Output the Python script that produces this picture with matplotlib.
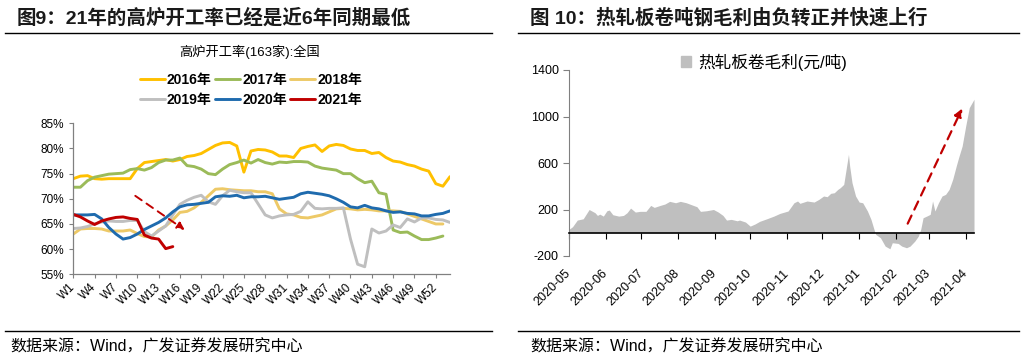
import matplotlib
matplotlib.use('Agg')
import matplotlib.pyplot as plt
import matplotlib.dates as mdates
from matplotlib.lines import Line2D
from matplotlib.patches import Patch
import pandas as pd

plt.rcParams['font.family'] = ['Liberation Sans', 'Noto Sans CJK SC']
plt.rcParams['axes.unicode_minus'] = False

# ---- left chart: blast furnace utilisation (163 mills), weekly, %
week_ticks = list(range(1, 53, 3))
util_2016 = [74.0, 74.5, 74.6, 74.0, 73.9, 74.0, 74.0, 74.0, 74.0, 76.0,
             77.2, 77.4, 77.6, 77.8, 77.5, 77.8, 78.4, 78.6, 79.0, 79.8,
             80.6, 81.1, 81.2, 80.5, 75.3, 79.5, 79.8, 79.7, 79.3, 78.5,
             78.5, 78.2, 80.0, 80.4, 80.7, 79.4, 80.5, 80.8, 80.6, 79.9,
             79.6, 79.6, 79.0, 79.2, 78.2, 77.5, 77.3, 76.8, 76.5, 75.9,
             75.5, 73.0, 72.5, 74.4]
util_2017 = [72.3, 72.3, 73.6, 74.3, 74.6, 74.9, 75.0, 75.1, 75.8, 76.0,
             75.7, 76.2, 77.2, 77.7, 77.7, 78.1, 76.6, 76.4, 75.9, 75.0,
             74.8, 75.9, 76.8, 77.2, 77.7, 77.1, 77.8, 77.2, 76.9, 77.3,
             77.2, 77.4, 77.4, 77.3, 76.5, 76.1, 75.9, 75.7, 75.0, 75.0,
             74.0, 73.2, 73.5, 71.2, 70.9, 63.8, 63.3, 63.4, 62.6, 61.9,
             61.9, 62.2, 62.6]
util_2018 = [63.0, 64.0, 64.1, 64.1, 64.0, 63.6, 63.6, 63.6, 63.8, 63.1,
             62.5, 62.4, 63.8, 64.6, 65.8, 67.3, 67.5, 68.2, 69.3, 70.6,
             71.9, 72.0, 71.8, 71.7, 71.6, 71.6, 71.4, 71.4, 71.0, 68.0,
             67.0, 66.8, 66.3, 66.2, 66.5, 66.8, 67.4, 68.0, 68.1, 68.0,
             67.8, 67.9, 67.8, 67.6, 67.6, 67.6, 67.5, 67.0, 66.5, 66.0,
             65.5, 65.0, 65.0]
util_2019 = [64.1, 64.2, 64.5, 65.0, 65.4, 65.6, 65.5, 65.5, 65.7, 65.7,
             63.5, 62.6, 63.6, 64.6, 66.8, 68.9, 69.7, 70.3, 70.7, 69.4,
             68.9, 70.6, 71.7, 71.4, 71.2, 71.2, 69.0, 66.8, 66.2, 66.6,
             66.8, 66.9, 67.5, 69.4, 68.1, 68.0, 68.1, 68.1, 68.2, 62.0,
             57.0, 56.5, 64.0, 63.2, 63.6, 64.8, 64.3, 66.0, 65.4, 66.2,
             66.2, 65.9, 65.8, 65.3]
util_2020 = [66.8, 66.8, 66.8, 66.9, 66.0, 64.3, 63.0, 62.0, 62.3, 63.0,
             63.9, 64.6, 65.3, 66.2, 67.4, 68.4, 68.8, 68.9, 69.1, 69.3,
             70.4, 70.6, 70.5, 70.7, 70.2, 70.4, 70.4, 70.5, 70.2, 69.9,
             70.1, 70.3, 71.0, 71.3, 71.1, 70.9, 70.6, 70.0, 69.3, 68.4,
             68.2, 68.7, 68.2, 68.0, 67.6, 67.3, 67.4, 67.1, 67.0, 66.6,
             66.6, 66.9, 67.1, 67.6]
util_2021 = [66.9, 66.4, 65.6, 64.9, 65.6, 66.0, 66.3, 66.4, 66.1, 65.9,
             62.8, 62.2, 62.0, 60.1, 60.5]

series = [('2016年', util_2016, '#FFC000'),
          ('2017年', util_2017, '#9BBB59'),
          ('2018年', util_2018, '#EDC967'),
          ('2019年', util_2019, '#BFBFBF'),
          ('2020年', util_2020, '#1F6BAE'),
          ('2021年', util_2021, '#C00000')]

# ---- right chart: hot rolled coil gross margin, yuan/ton
margin_dates = ['2020-05-01', '2020-05-04', '2020-05-08', '2020-05-13', '2020-05-18',
                '2020-05-23', '2020-05-25', '2020-05-27', '2020-05-30', '2020-06-02',
                '2020-06-04', '2020-06-07', '2020-06-12', '2020-06-16', '2020-06-19',
                '2020-06-22', '2020-06-26', '2020-06-30', '2020-07-05', '2020-07-09',
                '2020-07-12', '2020-07-17', '2020-07-21', '2020-07-25', '2020-07-30',
                '2020-08-03', '2020-08-08', '2020-08-14', '2020-08-17', '2020-08-20',
                '2020-08-25', '2020-08-31', '2020-09-04', '2020-09-08', '2020-09-11',
                '2020-09-15', '2020-09-20', '2020-09-22', '2020-09-27', '2020-10-01',
                '2020-10-05', '2020-10-09', '2020-10-15', '2020-10-21', '2020-10-26',
                '2020-11-02', '2020-11-07', '2020-11-10', '2020-11-12', '2020-11-18',
                '2020-11-24', '2020-11-28', '2020-12-02', '2020-12-05', '2020-12-08',
                '2020-12-11', '2020-12-14', '2020-12-16', '2020-12-19', '2020-12-21',
                '2020-12-23', '2020-12-24', '2020-12-26', '2020-12-29', '2021-01-01',
                '2021-01-04', '2021-01-08', '2021-01-11', '2021-01-14', '2021-01-15',
                '2021-01-19', '2021-01-23', '2021-01-27', '2021-01-29', '2021-02-03',
                '2021-02-06', '2021-02-10', '2021-02-13', '2021-02-17', '2021-02-20',
                '2021-02-22', '2021-02-24', '2021-02-27', '2021-03-02', '2021-03-04',
                '2021-03-06', '2021-03-09', '2021-03-12', '2021-03-15', '2021-03-18',
                '2021-03-21', '2021-03-24', '2021-03-26', '2021-03-29', '2021-04-01',
                '2021-04-04', '2021-04-08']
margin_vals = [29, 52, 109, 120, 200, 172, 149, 160, 143, 189,
               195, 155, 143, 149, 172, 212, 178, 184, 184, 235,
               218, 235, 247, 270, 258, 270, 258, 235, 224, 184,
               189, 200, 178, 149, 109, 115, 103, 109, 92, 57,
               75, 98, 120, 143, 166, 187, 258, 273, 253, 273,
               264, 287, 316, 310, 339, 344, 373, 387, 416, 545,
               674, 574, 430, 316, 264, 258, 187, 115, 14, -14,
               -43, -115, -138, -86, -92, -115, -129, -115, -72, -29,
               29, 129, 143, 158, 273, 187, 258, 316, 330, 373,
               459, 574, 646, 746, 918, 1076, 1148]
month_ticks = pd.date_range('2020-05-01', '2021-04-01', freq='MS')

W, H = 1025, 361
def fx(px):
    return px / W
def fy(py):
    return 1 - py / H

fig = plt.figure(figsize=(W / 100, H / 100), dpi=100)

# headers / footers
fig.text(fx(17), fy(18), '图9：21年的高炉开工率已经是近6年同期最低', fontsize=14,
         fontweight='bold', va='center', color='#1a1a1a')
fig.text(fx(530), fy(18), '图 10：热轧板卷吨钢毛利由负转正并快速上行', fontsize=14,
         fontweight='bold', va='center', color='#1a1a1a')
for x0, x1 in [(5, 492), (518, 1019)]:
    fig.add_artist(Line2D([fx(x0), fx(x1)], [fy(33), fy(33)], color='black', lw=1))
    fig.add_artist(Line2D([fx(x0), fx(x1)], [fy(331), fy(331)], color='black', lw=1))
fig.text(fx(10), fy(347), '数据来源：Wind，广发证券发展研究中心', fontsize=11.5, va='center')
fig.text(fx(530), fy(347), '数据来源：Wind，广发证券发展研究中心', fontsize=11.5, va='center')

# ---- left chart
ax1 = fig.add_axes([fx(73.3), fy(274.3), (450 - 73.3) / W, (274.3 - 123.3) / H])
handles = {}
for name, vals, col in series:
    weeks = list(range(1, len(vals) + 1))
    ln, = ax1.plot(weeks, vals, color=col, lw=2.1, solid_capstyle='round')
    handles[name] = ln
ax1.set_xlim(1, 54)
ax1.set_ylim(55, 85)
for s in ['top', 'right']:
    ax1.spines[s].set_visible(False)
for s in ['left', 'bottom']:
    ax1.spines[s].set_color('#808080')
    ax1.spines[s].set_linewidth(0.9)
ax1.tick_params(axis='both', length=3, color='#808080', labelsize=8.5)
ax1.tick_params(axis='x', pad=5)
ax1.set_yticks(range(55, 86, 5))
ax1.set_yticklabels([f'{v}%' for v in range(55, 86, 5)])
ax1.set_xticks(week_ticks)
ax1.set_xticklabels([f'W{w}' for w in week_ticks], rotation=45, ha='right',
                    rotation_mode='anchor', va='center')
ax1.annotate('', xy=(17.0, 63.5), xytext=(9.4, 70.9),
             arrowprops=dict(arrowstyle='-|>', color='#C00000', lw=1.4,
                             linestyle=(0, (4, 3)), mutation_scale=11))

fig.text(fx(250), fy(52), '高炉开工率(163家):全国', fontsize=9.5, ha='center', va='center')
order = ['2016年', '2019年', '2017年', '2020年', '2018年', '2021年']
fig.legend([handles[k] for k in order], order, ncol=3, loc='center',
           bbox_to_anchor=(fx(251), fy(90)), frameon=False,
           prop={'size': 10, 'weight': 'bold'}, handlelength=1.8,
           handletextpad=0.15, columnspacing=0.25, labelspacing=0.45)

# ---- right chart
ax2 = fig.add_axes([fx(569), fy(256), (974 - 569) / W, (256 - 70) / H])
d = pd.to_datetime(margin_dates)
ax2.fill_between(d, margin_vals, 0, color='#BFBFBF', lw=0, interpolate=True)
ax2.set_xlim(pd.Timestamp('2020-05-01'), pd.Timestamp('2021-04-08'))
ax2.set_ylim(-200, 1400)
# spine position first: moving it resets the ticks
for s in ['top', 'right']:
    ax2.spines[s].set_visible(False)
ax2.spines['left'].set_color('#808080')
ax2.spines['bottom'].set_position(('data', 0))
ax2.spines['bottom'].set_color('black')
ax2.spines['bottom'].set_linewidth(1.2)
ax2.tick_params(axis='both', length=4, color='#808080', labelsize=9)
ax2.tick_params(axis='x', color='black', pad=24)
ax2.set_yticks([-200, 200, 600, 1000, 1400])
ax2.set_xticks(month_ticks)
ax2.set_xticklabels([t.strftime('%Y-%m') for t in month_ticks], rotation=45,
                    ha='right', rotation_mode='anchor', va='center')
x0 = mdates.date2num(pd.Timestamp('2021-02-10'))
x1 = mdates.date2num(pd.Timestamp('2021-03-30'))
ax2.annotate('', xy=(x1, 1090), xytext=(x0, 57),
             arrowprops=dict(arrowstyle='-|>', color='#C00000', lw=1.6,
                             linestyle=(0, (4, 3)), mutation_scale=12))
fig.legend([Patch(color='#BFBFBF')], ['热轧板卷毛利(元/吨)'], loc='center',
           bbox_to_anchor=(fx(764), fy(62)), frameon=False, fontsize=12,
           handlelength=0.6, handleheight=0.6, handletextpad=0.4)

fig.savefig('out.png', dpi=100)
